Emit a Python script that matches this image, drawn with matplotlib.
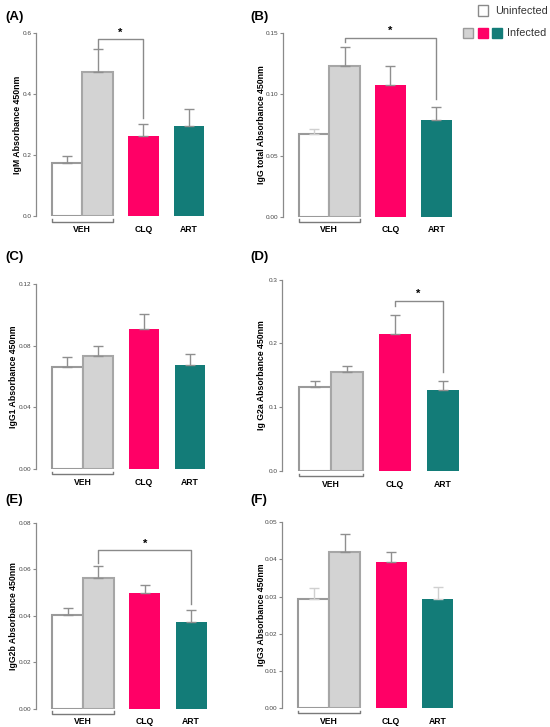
import matplotlib.pyplot as plt
from matplotlib.patches import Rectangle
import numpy as np

plt.rcParams['font.family'] = ['Liberation Sans', 'DejaVu Sans']

groups = ['VEH', 'CLQ', 'ART']
panels = ['(A)', '(B)', '(C)', '(D)', '(E)', '(F)']
ylabels = ['IgM Absorbance 450nm', 'IgG total Absorbance 450nm',
           'IgG1 Absorbance 450nm', 'Ig G2a Absorbance 450nm',
           'IgG2b Absorbance 450nm', 'IgG3 Absorbance 450nm']
yticks = [[0.0, 0.2, 0.4, 0.6],
          [0.00, 0.05, 0.10, 0.15],
          [0.00, 0.04, 0.08, 0.12],
          [0.0, 0.1, 0.2, 0.3],
          [0.00, 0.02, 0.04, 0.06, 0.08],
          [0.00, 0.01, 0.02, 0.03, 0.04, 0.05]]
ytick_fmt = ['%.1f', '%.2f', '%.2f', '%.1f', '%.2f', '%.2f']

# bar order: VEH uninfected, VEH infected, CLQ infected, ART infected
means = [[0.176, 0.473, 0.262, 0.297],
         [0.0674, 0.1235, 0.1075, 0.079],
         [0.0665, 0.0734, 0.0908, 0.0678],
         [0.1315, 0.1544, 0.2139, 0.1273],
         [0.0403, 0.0561, 0.0496, 0.0374],
         [0.0293, 0.0421, 0.0392, 0.0294]]
sems = [[0.021, 0.075, 0.04, 0.055],
        [0.004, 0.0155, 0.0155, 0.011],
        [0.006, 0.0066, 0.010, 0.0067],
        [0.010, 0.010, 0.030, 0.014],
        [0.003, 0.0053, 0.0034, 0.005],
        [0.003, 0.0048, 0.0029, 0.0033]]

# significance: (bar from, bar to, bracket height, left leg end, right leg end)
signif = {0: (1, 2, 0.580, 0.55, 0.322),
          1: (1, 3, 0.1465, 0.143, 0.096),
          3: (2, 3, 0.2666, 0.258, 0.155),
          4: (1, 3, 0.0682, 0.0625, 0.045)}

xpos = [0.0, 1.0, 2.5, 4.0]
fills = ['white', '#d3d3d3', '#ff0066', '#137c78']
edges = ['#9a9a9a', '#a6a6a6', '#ff0066', '#137c78']

# pixel layout: spine x, top y, bottom y, pixels per bar unit
layout = [(36, 33, 216.5, 30.5), (282.7, 33.3, 216.7, 30.6),
          (36, 284.3, 469, 30.7), (282, 279.5, 471, 32),
          (36, 522.7, 708.7, 30.9), (282, 522.3, 708, 31)]
label_off = [-13.5, -17, -18, -16, -18, -16]
panel_xy = [(5, 17), (250, 17), (5, 257), (250, 257), (5, 500), (250, 500)]
light_caps = {(1, 0), (5, 0), (5, 3)}

W, H = 550, 727
fig = plt.figure(figsize=(5.5, 7.27), dpi=100)

for i in range(6):
    sx, top, bot, unit = layout[i]
    x0, x1 = -1.02, 5.0
    wpx = (x1 - x0) * unit
    ax = fig.add_axes([sx / W, 1 - bot / H, wpx / W, (bot - top) / H])
    ax.set_xlim(x0, x1)
    ax.set_ylim(0, yticks[i][-1])

    ax.bar(xpos, means[i], width=1.0, color=fills, edgecolor=edges,
           linewidth=[1.5, 1.5, 0, 0], zorder=2)
    for j in range(4):
        ec = '#d0d0d0' if (i, j) in light_caps else '#8f8f8f'
        ax.errorbar(xpos[j], means[i][j], yerr=[[0], [sems[i][j]]], fmt='none',
                    ecolor=ec, elinewidth=1, capsize=3.6, capthick=1, zorder=3)

    if i in signif:
        a, b, yb, yl, yr = signif[i]
        ax.plot([xpos[a], xpos[a], xpos[b], xpos[b]], [yl, yb, yb, yr],
                color='#8a8a8a', lw=1, zorder=4, clip_on=False)
        ax.text((xpos[a] + xpos[b]) / 2, yb + yticks[i][-1] * 0.008, '*',
                ha='center', va='bottom', fontsize=8, fontweight='bold')

    # bracket under VEH pair
    tr = ax.get_xaxis_transform()
    ax.plot([-0.5, -0.5, 1.5, 1.5], [-0.015, -0.028, -0.028, -0.015],
            transform=tr, color='#7a7a7a', lw=1, clip_on=False)

    for s in ['top', 'right', 'bottom']:
        ax.spines[s].set_visible(False)
    ax.spines['left'].set_color('#8a8a8a')
    ax.spines['left'].set_linewidth(0.9)

    ax.set_yticks(yticks[i])
    ax.set_yticklabels([ytick_fmt[i] % v for v in yticks[i]])
    ax.tick_params(axis='y', length=2.2, width=0.8, color='#8a8a8a',
                   labelsize=4.6, labelcolor='#444444', pad=1.2)
    ax.set_xticks([0.5, 2.5, 4.0])
    ax.set_xticklabels(groups, fontweight='bold', fontsize=6.2)
    ax.tick_params(axis='x', length=0, pad=6.3)

    ax.set_ylabel(ylabels[i], fontsize=6.3, fontweight='bold')
    ax.yaxis.set_label_coords(label_off[i] / wpx, 0.5)

    px, py = panel_xy[i]
    fig.text(px / W, 1 - py / H, panels[i], fontsize=9.5, fontweight='bold',
             ha='left', va='center')

# legend
def box(xl, yt, fc, ec):
    fig.add_artist(Rectangle((xl / W, 1 - (yt + 10) / H), 10 / W, 10 / H,
                             facecolor=fc, edgecolor=ec, lw=1,
                             transform=fig.transFigure))

box(478, 5.5, 'white', '#8a8a8a')
box(463, 28, '#d3d3d3', '#9a9a9a')
box(477.5, 28, '#ff0066', '#ff0066')
box(492, 28, '#137c78', '#137c78')
fig.text(495 / W, 1 - 10.5 / H, 'Uninfected', fontsize=7.8, va='center',
         ha='left', color='#333333')
fig.text(507 / W, 1 - 33 / H, 'Infected', fontsize=7.8, va='center',
         ha='left', color='#333333')

fig.savefig('out.png', dpi=100)
